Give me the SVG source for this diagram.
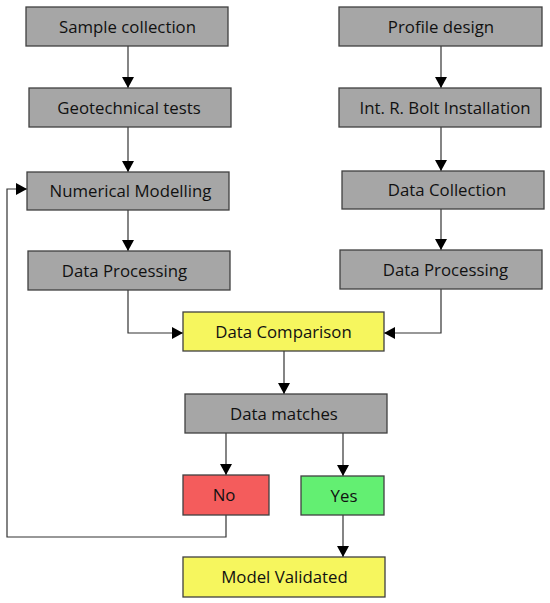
<svg xmlns="http://www.w3.org/2000/svg" width="550" height="603" viewBox="0 0 550 603">
<style>
.box{stroke:#404040;stroke-width:1.3}
.g{fill:#a6a6a6}
.y{fill:#f6f65e}
.r{fill:#f45c5c}
.gr{fill:#63ef72}
text{font-family:"Open Sans","Noto Sans",sans-serif;font-size:16.8px;fill:#111;text-anchor:middle}
.c{fill:none;stroke:#333;stroke-width:1.2}
</style>
<defs>
<marker id="ah" markerWidth="12" markerHeight="12" refX="11" refY="6" orient="auto" markerUnits="userSpaceOnUse">
<path d="M0,0 L11,6 L0,12 Z" fill="#000"/>
</marker>
</defs>
<rect width="550" height="603" fill="#fff"/>
<g id="connectors">
<path class="c" d="M128,46 V88" marker-end="url(#ah)"/>
<path class="c" d="M128,127 V172" marker-end="url(#ah)"/>
<path class="c" d="M128,210 V251" marker-end="url(#ah)"/>
<path class="c" d="M128,290 V333 H183" marker-end="url(#ah)"/>
<path class="c" d="M441,46 V88" marker-end="url(#ah)"/>
<path class="c" d="M441,127 V171" marker-end="url(#ah)"/>
<path class="c" d="M441,209 V250" marker-end="url(#ah)"/>
<path class="c" d="M441,289 V333 H384" marker-end="url(#ah)"/>
<path class="c" d="M284,351 V394" marker-end="url(#ah)"/>
<path class="c" d="M226,433 V475" marker-end="url(#ah)"/>
<path class="c" d="M343,433 V476" marker-end="url(#ah)"/>
<path class="c" d="M343,515 V557" marker-end="url(#ah)"/>
<path class="c" d="M226,515 V537 H7 V189 H27" marker-end="url(#ah)"/>
</g>
<g id="sample"><rect class="box g" x="26" y="7" width="202" height="39"/><text x="127.5" y="32.5">Sample collection</text></g>
<g id="geotech"><rect class="box g" x="29" y="88" width="202" height="39"/><text x="129" y="113.5">Geotechnical tests</text></g>
<g id="numerical"><rect class="box g" x="27" y="172" width="202" height="38"/><text x="130.5" y="197">Numerical Modelling</text></g>
<g id="procL"><rect class="box g" x="28" y="251" width="202" height="39"/><text x="124.5" y="276.5">Data Processing</text></g>
<g id="profile"><rect class="box g" x="339" y="7" width="203" height="39"/><text x="441" y="32.5">Profile design</text></g>
<g id="bolt"><rect class="box g" x="339" y="88" width="202" height="39"/><text x="445" y="113.5">Int. R. Bolt Installation</text></g>
<g id="collection"><rect class="box g" x="342" y="171" width="202" height="38"/><text x="447" y="196">Data Collection</text></g>
<g id="procR"><rect class="box g" x="340" y="250" width="202" height="39"/><text x="445.5" y="275.5">Data Processing</text></g>
<g id="comparison"><rect class="box y" x="183" y="312" width="201" height="39"/><text x="283.5" y="337.5">Data Comparison</text></g>
<g id="matches"><rect class="box g" x="185" y="394" width="202" height="39"/><text x="284" y="419.5">Data matches</text></g>
<g id="no"><rect class="box r" x="183" y="475" width="86" height="40"/><text x="224" y="501">No</text></g>
<g id="yes"><rect class="box gr" x="301" y="476" width="83" height="39"/><text x="344" y="501.5">Yes</text></g>
<g id="validated"><rect class="box y" x="183" y="557" width="202" height="40"/><text x="284.5" y="583">Model Validated</text></g>
</svg>
